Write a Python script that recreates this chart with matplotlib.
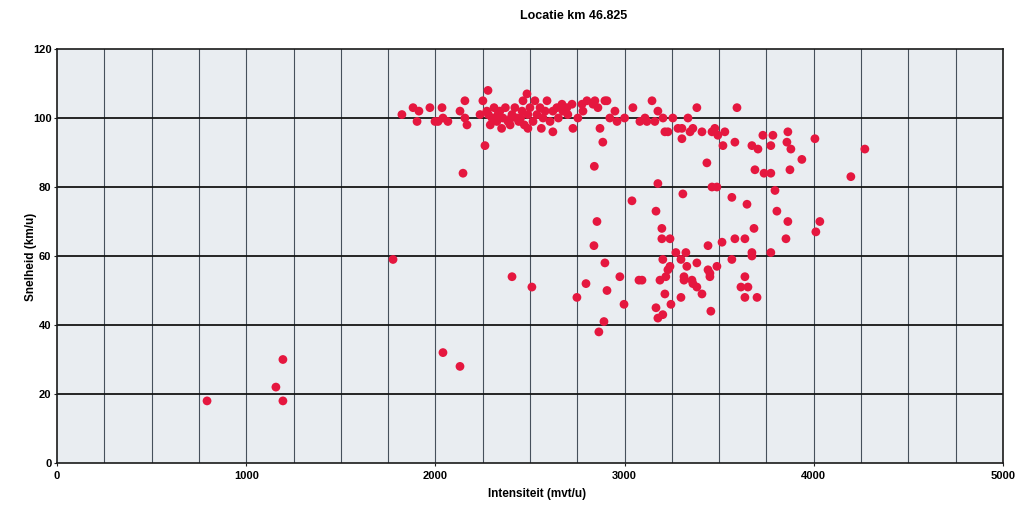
import matplotlib
matplotlib.use("Agg")
import matplotlib.pyplot as plt
import numpy as np

plt.rcParams['font.family'] = ['Liberation Sans', 'DejaVu Sans']

title = "Locatie km 46.825"
xlabel = "Intensiteit (mvt/u)"
ylabel = "Snelheid (km/u)"

intensiteit = [
    793, 1157, 1194, 1194, 1776, 2040, 2130, 2146, 2405, 2510,
    1823, 1882, 1913, 1903, 1971, 1998, 2035, 2040, 2066, 2014, 2130, 2156, 2156, 2167,
    2251, 2278, 2236, 2262,
    2272, 2299, 2325, 2341, 2357, 2384, 2405, 2420, 2431, 2458, 2463, 2484, 2489, 2489,
    2516, 2526, 2537, 2553, 2569, 2590, 2606, 2621, 2621, 2642, 2669, 2674, 2695, 2722,
    2727, 2753, 2775, 2801, 2833, 2859, 2870, 2885, 2907, 2922, 2949, 2960, 3044, 3081,
    3118, 3145, 3160,
    2290, 2310, 2330, 2350, 2370, 2395, 2440, 2470, 2280, 2320, 2400, 2450, 2500, 2560,
    2580, 2650, 2700, 2780, 2843, 2896, 3000,
    3176, 3203, 3255, 3335, 3382, 3594, 3213, 3229, 3282, 3303, 3303, 3346, 3361, 3409,
    3462, 3477, 3493, 3530, 3520, 3583, 3673, 3705, 3731, 3784, 3773, 3863, 3858, 3879,
    4006, 3937, 4270, 3435, 3108,
    2840, 3689, 3737, 3773, 3874, 4196, 3176, 3462, 3488, 3795, 3308, 3039, 3567, 3647,
    3166, 3805, 2854, 3197, 3863, 4032, 4011, 3684, 3197, 3240, 3853, 3583, 3636, 3515,
    3441, 2838, 3271, 3324, 3673, 3673, 3773, 3202, 3298, 3382, 3567, 2896, 3240, 3229,
    3329, 3441, 3488, 2975, 3076, 3092, 3187, 3218, 3314, 3314, 3356, 3361, 3451, 3451,
    3636, 2796, 2907, 2997, 2748, 3213, 3382, 3409, 3615, 3652, 3298, 3245, 3636, 3700,
    3166, 3456, 3202, 3176, 2891, 2864,
]
snelheid = [
    18, 22, 30, 18, 59, 32, 28, 84, 54, 51,
    101, 103, 102, 99, 103, 99, 103, 100, 99, 99, 102, 105, 100, 98,
    105, 108, 101, 92,
    102, 100, 99, 102, 100, 99, 101, 103, 100, 102, 105, 107, 101, 97,
    99, 105, 101, 103, 100, 105, 99, 102, 96, 103, 104, 102, 103, 104,
    97, 100, 104, 105, 104, 103, 97, 93, 105, 100, 102, 99, 103, 99,
    99, 105, 99,
    98, 103, 101, 97, 103, 98, 99, 98, 101, 100, 100, 100, 103, 97,
    102, 100, 101, 102, 105, 105, 100,
    102, 100, 100, 100, 103, 103, 96, 96, 97, 97, 94, 96, 97, 96,
    96, 97, 95, 96, 92, 93, 92, 91, 95, 95, 92, 96, 93, 91,
    94, 88, 91, 87, 100,
    86, 85, 84, 84, 85, 83, 81, 80, 80, 79, 78, 76, 77, 75,
    73, 73, 70, 68, 70, 70, 67, 68, 65, 65, 65, 65, 65, 64,
    63, 63, 61, 61, 61, 60, 61, 59, 59, 58, 59, 58, 57, 56,
    57, 56, 57, 54, 53, 53, 53, 54, 54, 53, 53, 52, 55, 54,
    54, 52, 50, 46, 48, 49, 51, 49, 51, 51, 48, 46, 48, 48,
    45, 44, 43, 42, 41, 38,
]

xticks = [0, 1000, 2000, 3000, 4000, 5000]
yticks = [0, 20, 40, 60, 80, 100, 120]

fig = plt.figure(figsize=(10.2, 5.08), dpi=100)
ax = fig.add_axes([0.0559, 0.0886, 0.9274, 0.8149])
ax.set_facecolor('#e9edf1')

ax.set_xlim(0, 5000)
ax.set_ylim(0, 120)

# grid
for xv in np.arange(250, 5000, 250):
    ax.axvline(xv, color='#46505c', lw=0.8, zorder=1)
for yv in np.arange(20, 120, 20):
    ax.axhline(yv, color='#151515', lw=1.3, zorder=1)

ax.scatter(intensiteit, snelheid, s=40, color='#e5173f', edgecolors='none', zorder=3)

ax.set_xticks(xticks)
ax.set_yticks(yticks)
ax.set_xticklabels([str(v) for v in xticks], fontsize=8, fontweight='bold')
ax.set_yticklabels([str(v) for v in yticks], fontsize=8, fontweight='bold')
ax.tick_params(axis='y', length=2, width=0.8, pad=2, color='#222222')
ax.tick_params(axis='x', length=2, width=0.8, pad=4, color='#222222')
for sp in ax.spines.values():
    sp.set_color('#1a1a1a')
    sp.set_linewidth(1.2)

fig.text(0.562, 0.968, title, ha='center', va='center', fontsize=9, fontweight='bold')
fig.text(0.527, 0.028, xlabel, ha='center', va='center', fontsize=8.5, fontweight='bold')
fig.text(0.030, 0.495, ylabel, ha='center', va='center', rotation=90, fontsize=8.5, fontweight='bold')

fig.savefig('out.png', dpi=100)
